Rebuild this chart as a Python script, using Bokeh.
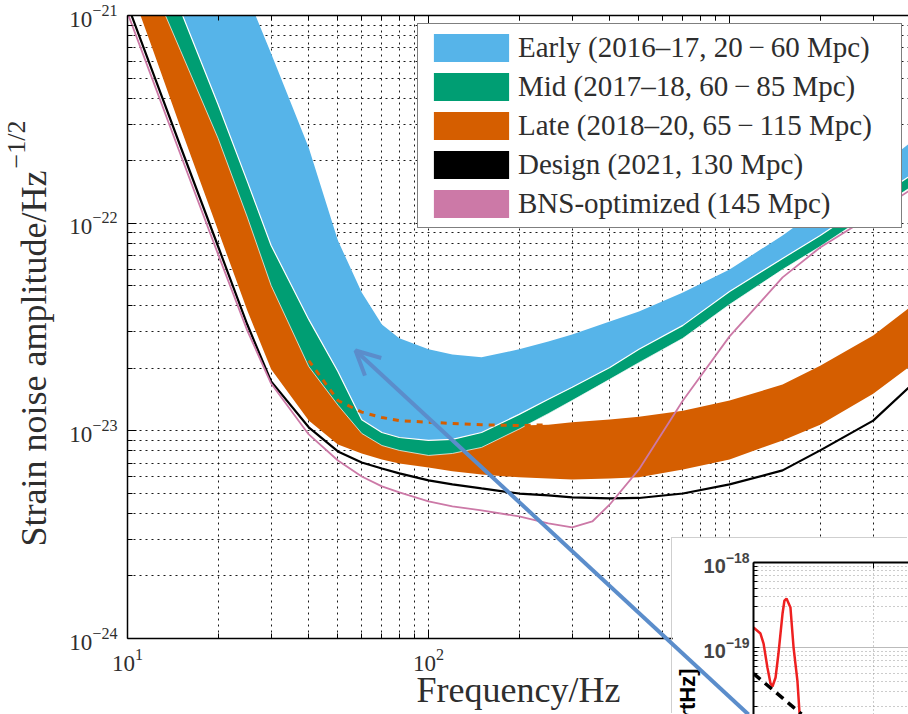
from math import pi
from bokeh.plotting import figure
from bokeh.models import (FixedTicker, LogAxis, Legend, LegendItem, Label, Arrow, OpenHead,
                          LogTickFormatter, Range1d, CustomJSTickFormatter)
from bokeh.embed import file_html
from bokeh.resources import INLINE

# ---------------- data ----------------
FREQ = [10, 12, 15, 20, 25, 30, 40, 50, 60, 70, 80, 100, 120, 150, 200, 250, 300,
        400, 500, 700, 1000, 1500, 2000, 3000, 4000]
EARLY_HI = [3.14e-20, 1.65e-20, 7.5e-21, 2.74e-21, 1.25e-21, 6.56e-22, 2.31e-22, 8.25e-23,
            4.64e-23, 3.25e-23, 2.79e-23, 2.47e-23, 2.33e-23, 2.26e-23, 2.47e-23, 2.69e-23,
            2.91e-23, 3.36e-23, 3.76e-23, 4.64e-23, 5.98e-23, 8.73e-23, 1.18e-22, 1.77e-22, 2.45e-22]
EARLY_LO = [4.57e-21, 2.37e-21, 1.06e-21, 3.73e-22, 1.59e-22, 7.81e-23, 3.44e-23, 1.93e-23,
            1.13e-23, 9.82e-24, 9.29e-24, 8.99e-24, 9.09e-24, 9.82e-24, 1.20e-23, 1.42e-23,
            1.62e-23, 2.02e-23, 2.47e-23, 3.22e-23, 4.69e-23, 6.76e-23, 8.73e-23, 1.29e-22, 1.70e-22]
MID_HI = EARLY_LO
MID_LO = [2.68e-21, 1.44e-21, 6.78e-22, 2.56e-22, 1.07e-22, 5.01e-23, 2.04e-23, 1.33e-23,
          9.72e-24, 8.50e-24, 8.05e-24, 7.61e-24, 7.78e-24, 8.32e-24, 1.02e-23, 1.21e-23,
          1.40e-23, 1.77e-23, 2.13e-23, 2.79e-23, 4.06e-23, 5.98e-23, 7.72e-23, 1.14e-22, 1.49e-22]
LATE_HI = [3.58e-21, 1.84e-21, 8.47e-22, 3.09e-22, 1.30e-22, 6.26e-23, 2.18e-23, 1.40e-23,
           1.23e-23, 1.16e-23, 1.12e-23, 1.10e-23, 1.085e-23, 1.07e-23, 1.06e-23, 1.07e-23,
           1.10e-23, 1.135e-23, 1.17e-23, 1.25e-23, 1.40e-23, 1.67e-23, 2.06e-23, 2.88e-23, 3.97e-23]
LATE_LO = [1.49e-21, 7.17e-22, 2.89e-22, 9.22e-23, 3.80e-23, 1.98e-23, 1.12e-23, 8.60e-24,
           7.78e-24, 7.28e-24, 6.97e-24, 6.66e-24, 6.38e-24, 6.17e-24, 5.97e-24, 5.90e-24,
           5.83e-24, 5.90e-24, 5.97e-24, 6.52e-24, 7.28e-24, 8.99e-24, 1.07e-23, 1.51e-23, 2.06e-23]
DESIGN = [1.13e-21, 5.56e-22, 2.34e-22, 7.72e-23, 3.25e-23, 1.73e-23, 1.04e-23, 7.96e-24,
          7.04e-24, 6.59e-24, 6.24e-24, 5.77e-24, 5.52e-24, 5.28e-24, 4.99e-24, 4.89e-24,
          4.78e-24, 4.73e-24, 4.75e-24, 4.99e-24, 5.52e-24, 6.45e-24, 8.05e-24, 1.12e-23, 1.65e-23]
BNS_FREQ = [10, 12, 15, 20, 25, 30, 40, 50, 60, 70, 80, 100, 120, 150, 200, 250, 300, 350,
            400, 500, 700, 1000, 1500, 2000, 3000, 4000]
BNS = [1.03e-21, 5.09e-22, 2.14e-22, 7.07e-23, 3.04e-23, 1.69e-23, 9.61e-24, 7.20e-24,
       6.03e-24, 5.40e-24, 5.05e-24, 4.57e-24, 4.33e-24, 4.14e-24, 3.87e-24, 3.58e-24,
       3.43e-24, 3.66e-24, 4.42e-24, 6.52e-24, 1.40e-23, 2.85e-23, 5.48e-23, 7.64e-23,
       1.10e-22, 1.45e-22]
LATE_DASH_RANGE = (40, 250)

X_TICKS = [10, 100, 1000]
X_MINOR = [20, 30, 40, 50, 60, 70, 80, 90, 200, 300, 400, 500, 600, 700, 800, 900, 2000, 3000]
Y_TICKS = [1e-24, 1e-23, 1e-22, 1e-21]
Y_MINOR = [k * 10.0 ** e for e in (-24, -23, -22) for k in range(2, 10)]

LABELS = ["Early (2016\u201317, 20\u2009\u2212\u200960 Mpc)",
          "Mid (2017\u201318, 60\u2009\u2212\u200985 Mpc)",
          "Late (2018\u201320, 65\u2009\u2212\u2009115 Mpc)",
          "Design (2021, 130 Mpc)",
          "BNS-optimized (145 Mpc)"]
X_TITLE = "Frequency/Hz"
Y_TITLE = "Strain noise amplitude/Hz"
Y_TITLE_EXP = "\u22121/2"

# inset (partially visible second chart)
INSET_X = [0, 2.9, 4.2, 5.8, 7.1, 7.9, 9.2, 10.4, 12.1, 12.9, 13.75, 15.4, 16.7, 18.3, 19.2]
INSET_RED = [1.72e-19, 1.46e-19, 1.11e-19, 5.82e-20, 3.77e-20, 3.48e-20, 4.44e-20, 8.50e-20,
             2.51e-19, 3.57e-19, 3.77e-19, 2.95e-19, 1.0e-19, 4.09e-20, 1.67e-20]
INSET_REF_X = [0, 20]
INSET_REF = [4.94e-20, 1.65e-20]
INSET_TITLE = "ASD [strain/rtHz]"

BLUE, GREEN, ORANGE, PINK = "#56B4E9", "#009E73", "#D55E00", "#CC79A7"
ARROW_C = "#5b8dcb"
SERIF = "Liberation Serif"
TXT = "#2e2e2e"

# ---------------- main figure ----------------
p = figure(width=908, height=714, x_axis_type="log", y_axis_type="log",
           x_range=Range1d(10, 3930), y_range=Range1d(1e-24, 1e-21),
           output_backend="svg", toolbar_location=None,
           min_border_left=127, min_border_right=0, min_border_top=15, min_border_bottom=76)
p.outline_line_color = None

xt = FixedTicker(ticks=X_TICKS, minor_ticks=X_MINOR)
yt = FixedTicker(ticks=Y_TICKS, minor_ticks=Y_MINOR)
p.xaxis.ticker = xt
p.yaxis.ticker = yt
for ax in (p.xaxis[0], p.yaxis[0]):
    ax.formatter = LogTickFormatter()
    ax.axis_line_width = 1.5
    ax.major_tick_in, ax.major_tick_out = 9, 0
    ax.minor_tick_in, ax.minor_tick_out = 5, 0
    ax.major_label_text_font = SERIF
    ax.major_label_text_font_size = "23px"
    ax.major_label_text_color = TXT
    ax.major_label_standoff = 10

top = LogAxis(ticker=xt, formatter=CustomJSTickFormatter(code="return ''"),
              major_label_standoff=0, major_tick_in=9, major_tick_out=0,
              minor_tick_in=5, minor_tick_out=0, axis_line_width=1.5)
p.add_layout(top, "above")

for g in (p.xgrid[0], p.ygrid[0]):
    g.grid_line_color = "black"
    g.grid_line_dash = "2 4"
    g.grid_line_alpha = 0.9
    g.minor_grid_line_color = "black"
    g.minor_grid_line_dash = "2 4"
    g.minor_grid_line_alpha = 0.9

r_late = p.varea(x=FREQ, y1=LATE_LO, y2=LATE_HI, fill_color=ORANGE)
r_mid = p.varea(x=FREQ, y1=MID_LO, y2=MID_HI, fill_color=GREEN)
p.line(FREQ, MID_LO, line_color="white", line_width=1, line_alpha=0.7)
r_early = p.varea(x=FREQ, y1=EARLY_LO, y2=EARLY_HI, fill_color=BLUE)
p.line(FREQ, EARLY_LO, line_color="white", line_width=1.2)

dash_f = [f for f in FREQ if LATE_DASH_RANGE[0] <= f <= LATE_DASH_RANGE[1]]
dash_h = [h for f, h in zip(FREQ, LATE_HI) if LATE_DASH_RANGE[0] <= f <= LATE_DASH_RANGE[1]]
p.line(dash_f, dash_h, line_color=ORANGE, line_width=3, line_dash="6 6")

p.line(FREQ, DESIGN, line_color="black", line_width=2.2)
p.line(BNS_FREQ, BNS, line_color=PINK, line_width=1.8)

r_des = p.quad(left=[1], right=[1], top=[1e-30], bottom=[1e-30], fill_color="black", line_color=None)
r_bns = p.quad(left=[1], right=[1], top=[1e-30], bottom=[1e-30], fill_color=PINK, line_color=None)

legend = Legend(items=[LegendItem(label=l, renderers=[r]) for l, r in
                       zip(LABELS, [r_early, r_mid, r_late, r_des, r_bns])],
                location=(290, 410), margin=0, padding=6, spacing=4,
                glyph_width=94, glyph_height=35, label_standoff=0, label_width=377,
                label_text_font=SERIF, label_text_font_size="29px", label_text_color=TXT,
                border_line_color="black", border_line_width=1.2,
                background_fill_color="white", background_fill_alpha=1.0)
p.add_layout(legend)

# ---------------- inset ----------------
ins = figure(width=236, height=176, y_axis_type="log", x_range=Range1d(0, 64.6),
             y_range=Range1d(1.63e-20, 1e-18), output_backend="svg", toolbar_location=None,
             x_axis_location="above", min_border_left=81, min_border_top=24,
             min_border_right=0, min_border_bottom=0)
ins.outline_line_color = None
ins.xaxis.ticker = FixedTicker(ticks=[0, 50])
ins.xaxis.formatter = CustomJSTickFormatter(code="return ''")
ins.xaxis.major_label_standoff = 0
ins.xaxis.major_tick_in, ins.xaxis.major_tick_out = 6, 0
ins.xaxis.minor_tick_in, ins.xaxis.minor_tick_out = 0, 0
ins.xaxis.axis_line_width = 2
ins.yaxis.ticker = FixedTicker(ticks=[1e-19, 1e-18],
                               minor_ticks=[k * 10.0 ** e for e in (-20, -19) for k in range(2, 10)])
ins.yaxis.formatter = LogTickFormatter()
ins.yaxis.major_label_text_font = "Liberation Sans"
ins.yaxis.major_label_text_font_style = "bold"
ins.yaxis.major_label_text_font_size = "20px"
ins.yaxis.major_label_standoff = 4
ins.yaxis.axis_line_width = 2
ins.yaxis.major_tick_in, ins.yaxis.major_tick_out = 6, 0
ins.yaxis.minor_tick_in, ins.yaxis.minor_tick_out = 4, 0
ins.ygrid.grid_line_color = "#bbbbbb"
ins.ygrid.minor_grid_line_color = "#999999"
ins.ygrid.minor_grid_line_dash = "1 3"
ins.xgrid.grid_line_color = "#999999"
ins.xgrid.grid_line_dash = "1 3"
ins.line(INSET_X, INSET_RED, line_color="#ee2020", line_width=2.5)
ins.line(INSET_REF_X, INSET_REF, line_color="black", line_width=3.5, line_dash="9 6")
ins.margin = (-176, 0, 0, 672)
ins.styles = {"box-shadow": "-1px -1px 0 #cfcfcf"}

# ---------------- transparent overlay for titles and the arrow (pixel space) ----------------
ov = figure(width=908, height=714, x_range=Range1d(0, 908), y_range=Range1d(714, 0),
            x_axis_location=None, y_axis_location=None, output_backend="svg",
            toolbar_location=None, min_border=0, background_fill_color=None,
            border_fill_color=None, outline_line_color=None)
ov.grid.grid_line_color = None
ov.margin = (-714, 0, 0, 0)
ov.add_layout(Label(x=518, y=689, text=X_TITLE, text_align="center",
                    text_baseline="alphabetic", text_font=SERIF, text_font_size="36px",
                    text_color=TXT))
ov.add_layout(Label(x=33, y=170, text=Y_TITLE, angle=pi / 2, text_align="right",
                    text_baseline="alphabetic", text_font=SERIF, text_font_size="36px",
                    text_color=TXT))
ov.add_layout(Label(x=16, y=168, text=Y_TITLE_EXP, angle=pi / 2, text_align="left",
                    text_baseline="alphabetic", text_font=SERIF, text_font_size="26px",
                    text_color=TXT))
ov.add_layout(Label(x=687, y=668, text=INSET_TITLE, angle=pi / 2, text_align="right",
                    text_baseline="alphabetic", text_font="Liberation Sans",
                    text_font_style="bold", text_font_size="22px", text_color="black"))
ov.add_layout(Arrow(end=OpenHead(size=24, line_width=4, line_color=ARROW_C),
                    x_start=748, y_start=714, x_end=355, y_end=350,
                    line_color=ARROW_C, line_width=4))

open("out.html", "w").write(file_html([p, ins, ov], INLINE))
